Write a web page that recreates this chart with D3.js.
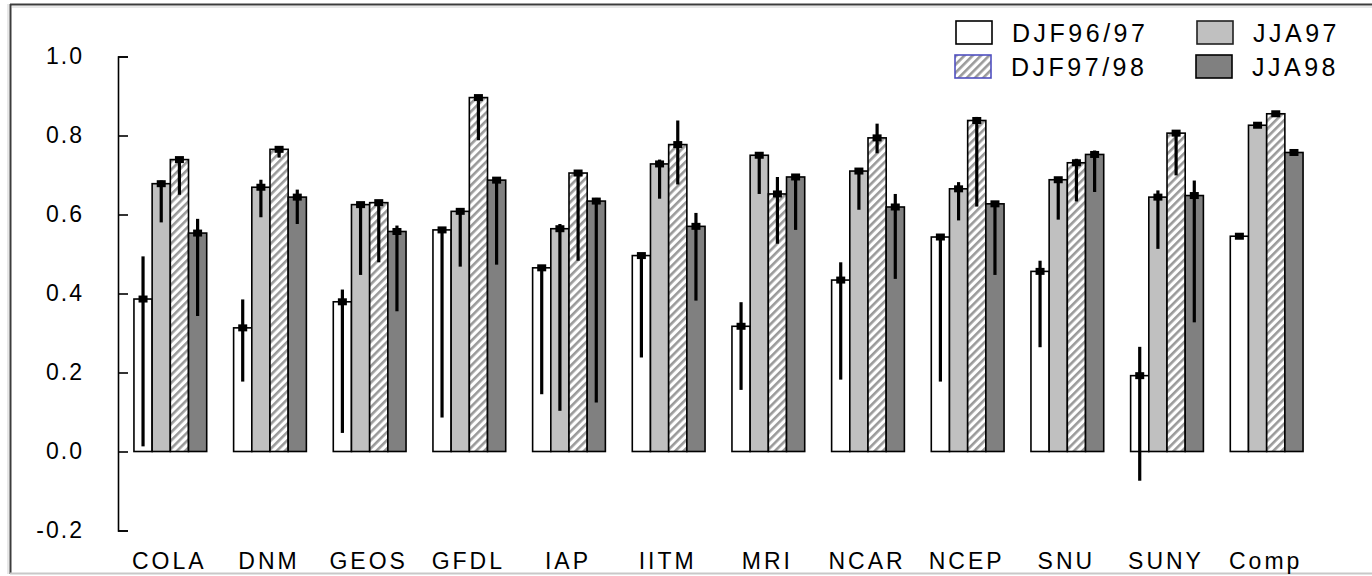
<!DOCTYPE html>
<html>
<head>
<meta charset="utf-8">
<script src="https://cdn.jsdelivr.net/npm/d3@7"></script>
<style>
  body { margin: 0; background: #fff; }
  svg { display: block; font-family: "Liberation Sans", Arial, sans-serif; }
</style>
</head>
<body>
<div id="chart"></div>
<script>
// models / groups along the x axis
var categories = ["COLA", "DNM", "GEOS", "GFDL", "IAP", "IITM", "MRI", "NCAR", "NCEP", "SNU", "SUNY", "Comp"];
var seriesNames = ["DJF96/97", "JJA97", "DJF97/98", "JJA98"];
var yTicks = [-0.2, 0.0, 0.2, 0.4, 0.6, 0.8, 1.0];

// bar heights (ensemble mean)
var djf9697 = [0.386, 0.313, 0.379, 0.561, 0.465, 0.496, 0.317, 0.434, 0.543, 0.456, 0.192, 0.545];
var jja97   = [0.678, 0.669, 0.625, 0.608, 0.564, 0.728, 0.750, 0.710, 0.665, 0.688, 0.644, 0.826];
var djf9798 = [0.739, 0.765, 0.630, 0.896, 0.705, 0.777, 0.652, 0.794, 0.838, 0.731, 0.806, 0.855];
var jja98   = [0.553, 0.644, 0.557, 0.687, 0.634, 0.570, 0.695, 0.619, 0.627, 0.752, 0.648, 0.757];

// spread of the individual members (low / high), none for Comp
var djf9697Lo = [0.013, 0.177, 0.047, 0.086, 0.145, 0.238, 0.156, 0.182, 0.177, 0.264, -0.074, null];
var djf9697Hi = [0.494, 0.385, 0.410, 0.561, 0.465, 0.500, 0.378, 0.479, 0.543, 0.483, 0.265, null];
var jja97Lo   = [0.580, 0.593, 0.447, 0.468, 0.103, 0.640, 0.652, 0.612, 0.585, 0.587, 0.513, null];
var jja97Hi   = [0.686, 0.688, 0.631, 0.616, 0.576, 0.739, 0.758, 0.716, 0.682, 0.688, 0.661, null];
var djf9798Lo = [0.650, 0.744, 0.479, 0.788, 0.483, 0.676, 0.526, 0.755, 0.620, 0.633, 0.699, null];
var djf9798Hi = [0.739, 0.771, 0.634, 0.902, 0.712, 0.838, 0.695, 0.830, 0.847, 0.741, 0.813, null];
var jja98Lo   = [0.343, 0.576, 0.355, 0.473, 0.124, 0.382, 0.561, 0.437, 0.447, 0.657, 0.327, null];
var jja98Hi   = [0.589, 0.663, 0.572, 0.690, 0.642, 0.604, 0.701, 0.652, 0.634, 0.762, 0.686, null];

var seriesValues = [djf9697, jja97, djf9798, jja98];
var seriesLo = [djf9697Lo, jja97Lo, djf9798Lo, jja98Lo];
var seriesHi = [djf9697Hi, jja97Hi, djf9798Hi, jja98Hi];

var fills = ["#ffffff", "#c0c0c0", "url(#hatch)", "#808080"];

var svgWidth = 1372, svgHeight = 576;

var svg = d3.select("#chart").append("svg")
    .attr("width", svgWidth)
    .attr("height", svgHeight);

// hatch pattern for DJF97/98
var defs = svg.append("defs");
var pat = defs.append("pattern")
    .attr("id", "hatch")
    .attr("patternUnits", "userSpaceOnUse")
    .attr("width", 5.8)
    .attr("height", 5.8)
    .attr("patternTransform", "rotate(45)");
pat.append("rect").attr("width", 5.8).attr("height", 5.8).attr("fill", "#fff");
pat.append("rect").attr("width", 2.6).attr("height", 5.8).attr("fill", "#9a9a9a");

// frame round the plot
svg.append("line").attr("x1", 10).attr("x2", svgWidth).attr("y1", 4.5).attr("y2", 4.5)
    .attr("stroke", "#3c3c3c").attr("stroke-width", 2);
svg.append("line").attr("x1", 12).attr("x2", svgWidth).attr("y1", 7).attr("y2", 7)
    .attr("stroke", "#d0d0d0").attr("stroke-width", 1);
svg.append("line").attr("x1", 10.5).attr("x2", 10.5).attr("y1", 4).attr("y2", 574)
    .attr("stroke", "#3c3c3c").attr("stroke-width", 2);
svg.append("line").attr("x1", 8).attr("x2", 8).attr("y1", 4).attr("y2", 574)
    .attr("stroke", "#d0d0d0").attr("stroke-width", 1);
svg.append("line").attr("x1", 10).attr("x2", svgWidth).attr("y1", 573.5).attr("y2", 573.5)
    .attr("stroke", "#c8c8c8").attr("stroke-width", 2);

// scales
var axisX = 118;
var xScale = d3.scaleBand()
    .domain(categories)
    .range([axisX, 1319])
    .paddingInner(0.27)
    .paddingOuter(0.16);

var xInner = d3.scaleBand()
    .domain(d3.range(seriesNames.length))
    .range([0, xScale.bandwidth()])
    .padding(0);

var yScale = d3.scaleLinear()
    .domain([-0.2, 1.0])
    .range([530.5, 56.5]);

// y axis: ticks point inward
var yAxis = d3.axisLeft(yScale)
    .tickValues(yTicks)
    .tickFormat(d => d.toFixed(1))
    .tickSizeInner(-10)
    .tickSizeOuter(-10)
    .tickPadding(34);

var yG = svg.append("g")
    .attr("transform", `translate(${axisX}, 0)`)
    .call(yAxis);
yG.selectAll("path, line").attr("stroke", "#000").attr("stroke-width", 1.6);
yG.selectAll("text")
    .attr("font-size", 23)
    .attr("letter-spacing", 2)
    .attr("fill", "#000")
    .style("font-family", "'Liberation Sans', Arial, sans-serif");

// x labels, no axis line
var xAxis = d3.axisBottom(xScale).tickSize(0).tickPadding(0);
var xG = svg.append("g")
    .attr("transform", "translate(-1, 553)")
    .call(xAxis);
xG.select(".domain").remove();
xG.selectAll("text")
    .attr("font-size", 23)
    .attr("letter-spacing", 3)
    .attr("fill", "#000")
    .style("font-family", "'Liberation Sans', Arial, sans-serif");

// bars
var groups = svg.selectAll("g.group")
    .data(categories)
    .enter()
    .append("g")
    .attr("class", "group")
    .attr("transform", d => `translate(${xScale(d)}, 0)`);

groups.each(function(cat, ci) {
    var g = d3.select(this);
    seriesNames.forEach(function(s, si) {
        var v = seriesValues[si][ci];
        g.append("rect")
            .attr("x", xInner(si))
            .attr("y", yScale(v))
            .attr("width", xInner.bandwidth())
            .attr("height", yScale(0) - yScale(v))
            .attr("fill", fills[si])
            .attr("stroke", "#000")
            .attr("stroke-width", 1.6);
    });
});

// spread lines and mean markers
groups.each(function(cat, ci) {
    var g = d3.select(this);
    seriesNames.forEach(function(s, si) {
        var cx = xInner(si) + xInner.bandwidth() / 2;
        var v = seriesValues[si][ci];
        var lo = seriesLo[si][ci], hi = seriesHi[si][ci];
        if (lo != null) {
            g.append("line")
                .attr("x1", cx).attr("x2", cx)
                .attr("y1", yScale(hi)).attr("y2", yScale(lo))
                .attr("stroke", "#000")
                .attr("stroke-width", 3.2);
        }
        g.append("rect")
            .attr("x", cx - 4.5)
            .attr("y", yScale(v) - 3.5)
            .attr("width", 9)
            .attr("height", 7)
            .attr("fill", "#000");
    });
});

// legend
var legendItems = [
    { name: seriesNames[0], fill: fills[0], stroke: "#000", x: 956, y: 21 },
    { name: seriesNames[2], fill: fills[2], stroke: "#5050c0", x: 955, y: 55 },
    { name: seriesNames[1], fill: fills[1], stroke: "#202020", x: 1197, y: 21 },
    { name: seriesNames[3], fill: fills[3], stroke: "#000", x: 1196, y: 55 }
];

var legend = svg.append("g").attr("class", "legend");
var li = legend.selectAll("g")
    .data(legendItems)
    .enter()
    .append("g")
    .attr("transform", d => `translate(${d.x}, ${d.y})`);

li.append("rect")
    .attr("width", 36)
    .attr("height", 23)
    .attr("fill", d => d.fill)
    .attr("stroke", d => d.stroke)
    .attr("stroke-width", 1.6);

li.append("text")
    .attr("x", 56)
    .attr("y", 20.5)
    .attr("font-size", 25)
    .attr("letter-spacing", 3.5)
    .attr("fill", "#000")
    .text(d => d.name);
</script>
</body>
</html>
